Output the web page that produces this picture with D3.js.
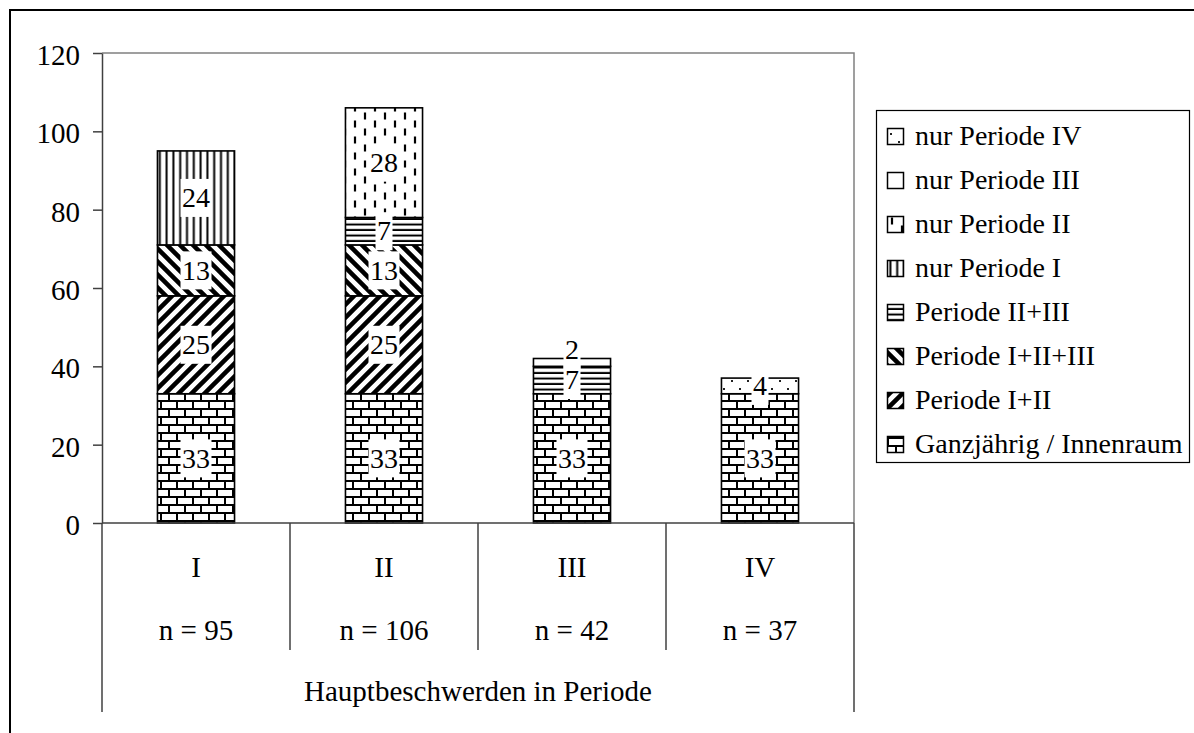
<!DOCTYPE html>
<html>
<head>
<meta charset="utf-8">
<script src="https://cdn.jsdelivr.net/npm/d3@7/dist/d3.min.js"></script>
<style>
	body { margin: 0; background: #ffffff; }
	svg { display: block; font-family: 'Liberation Serif', 'Times New Roman', serif; }
</style>
</head>
<body>
<svg id="chart"></svg>
<script>
// ========== DATA ==========
var periods = ['I', 'II', 'III', 'IV'];
var periodCounts = ['n = 95', 'n = 106', 'n = 42', 'n = 37'];
var groupLabel = 'Hauptbeschwerden in Periode';

// stack order, bottom to top
var seriesNames = ['Ganzjährig / Innenraum', 'Periode I+II', 'Periode I+II+III', 'Periode II+III',
	'nur Periode I', 'nur Periode II', 'nur Periode III', 'nur Periode IV'];
var ganzjaehrig = [33, 33, 33, 33];
var periodeI_II = [25, 25, 0, 0];
var periodeI_II_III = [13, 13, 0, 0];
var periodeII_III = [0, 7, 7, 0];
var nurPeriodeI = [24, 0, 0, 0];
var nurPeriodeII = [0, 28, 0, 0];
var nurPeriodeIII = [0, 0, 2, 0];
var nurPeriodeIV = [0, 0, 0, 4];
var yTicks = [0, 20, 40, 60, 80, 100, 120];

makeChart();

function makeChart() {
	// ========== CONSTANTS ==========
	var width = 1194;
	var height = 733;
	var plotLeft = 102;
	var plotRight = 854;
	var plotTop = 53;
	var plotBottom = 523;
	var fontSize = 29;
	var labelSize = 28;
	var serif = "'Liberation Serif', 'Times New Roman', serif";
	var axisColor = '#404040';
	var frameColor = '#808080';

	var seriesValues = [ganzjaehrig, periodeI_II, periodeI_II_III, periodeII_III,
		nurPeriodeI, nurPeriodeII, nurPeriodeIII, nurPeriodeIV];
	var patternIds = ['brick', 'diagUp', 'diagDown', 'horiz', 'vert', 'dashVert', 'blank', 'dots'];

	// table for d3.stack
	var table = periods.map(function(p, i) {
		var row = { period: p };
		seriesNames.forEach(function(s, j) { row[s] = seriesValues[j][i]; });
		return row;
	});
	var stacked = d3.stack().keys(seriesNames)(table);

	var svg = d3.select('svg#chart')
		.attr('width', width)
		.attr('height', height);

	// outer chart border
	svg.append('rect')
		.attr('x', 10)
		.attr('y', 10)
		.attr('width', width + 20)
		.attr('height', height + 20)
		.attr('fill', 'none')
		.attr('stroke', '#000')
		.attr('stroke-width', 2);

	// ========== PATTERNS ==========
	var defs = svg.append('defs');

	function pattern(id, w, h) {
		var p = defs.append('pattern')
			.attr('id', id)
			.attr('patternUnits', 'userSpaceOnUse')
			.attr('width', w)
			.attr('height', h);
		p.append('rect').attr('width', w).attr('height', h).attr('fill', '#fff');
		return p;
	}

	// bricks
	var brick = pattern('brick', 16, 16);
	brick.append('path')
		.attr('d', 'M0,1H16M0,9H16M1,1V9M9,9V17')
		.attr('stroke', '#000')
		.attr('stroke-width', 2)
		.attr('fill', 'none');

	// wide upward diagonal
	var up = pattern('diagUp', 13, 13);
	up.append('path')
		.attr('d', 'M-3,3L3,-3M0,13L13,0M10,16L16,10')
		.attr('stroke', '#000')
		.attr('stroke-width', 4.5);

	// wide downward diagonal
	var down = pattern('diagDown', 13, 13);
	down.append('path')
		.attr('d', 'M-3,10L3,16M0,0L13,13M10,-3L16,3')
		.attr('stroke', '#000')
		.attr('stroke-width', 4.5);

	// horizontal lines
	var horiz = pattern('horiz', 8, 5.5);
	horiz.append('rect').attr('y', 3.5).attr('width', 8).attr('height', 2).attr('fill', '#000');

	// vertical lines
	var vert = pattern('vert', 6.8, 8);
	vert.append('rect').attr('x', 2.4).attr('width', 2).attr('height', 8).attr('fill', '#000');

	// dashed vertical
	var dash = pattern('dashVert', 20, 16);
	dash.append('path')
		.attr('d', 'M5,0.5V7.5M15,8.5V15.5')
		.attr('stroke', '#000')
		.attr('stroke-width', 2.2);

	pattern('blank', 8, 8);

	// sparse dots
	var dots = pattern('dots', 16, 16);
	dots.append('rect').attr('x', 3).attr('y', 4).attr('width', 2).attr('height', 2).attr('fill', '#222');
	dots.append('rect').attr('x', 11).attr('y', 12).attr('width', 2).attr('height', 2).attr('fill', '#222');

	// ========== SCALES ==========
	var x = d3.scaleBand()
		.domain(periods)
		.range([plotLeft, plotRight])
		.paddingInner(0.59)
		.paddingOuter(0.295);
	var y = d3.scaleLinear()
		.domain([0, 120])
		.range([plotBottom, plotTop]);

	// plot area border (top + right)
	svg.append('path')
		.attr('d', d3.line()([[plotLeft, plotTop], [plotRight, plotTop], [plotRight, plotBottom]]))
		.attr('fill', 'none')
		.attr('stroke', frameColor)
		.attr('stroke-width', 1.5);

	// ========== BARS ==========
	var layers = svg.append('g').selectAll('g')
		.data(stacked)
		.enter().append('g')
		.attr('fill', function(d, i) { return 'url(#' + patternIds[i] + ')'; });

	layers.selectAll('rect')
		.data(function(d) { return d.filter(function(s) { return s[1] > s[0]; }); })
		.enter().append('rect')
		.attr('x', function(d) { return x(d.data.period); })
		.attr('y', function(d) { return y(d[1]); })
		.attr('width', x.bandwidth())
		.attr('height', function(d) { return y(d[0]) - y(d[1]); })
		.attr('stroke', '#000')
		.attr('stroke-width', 1.6);

	// ========== DATA LABELS ==========
	var labels = [];
	periods.forEach(function(p, i) {
		var prev = null;
		stacked.forEach(function(layer) {
			var s = layer[i];
			if (s[1] <= s[0]) return;
			var cy = (y(s[0]) + y(s[1])) / 2;
			// push small segments upward so labels don't sit on top of each other
			if (prev !== null && prev - cy < 30) cy = prev - 30;
			prev = cy;
			labels.push({ period: p, value: s[1] - s[0], cy: cy });
		});
	});

	var lab = svg.append('g').selectAll('g')
		.data(labels)
		.enter().append('g');
	lab.append('rect').attr('fill', '#fff');
	lab.append('text')
		.attr('x', function(d) { return x(d.period) + x.bandwidth() / 2; })
		.attr('y', function(d) { return d.cy; })
		.attr('dy', '0.33em')
		.attr('text-anchor', 'middle')
		.attr('font-family', serif)
		.attr('font-size', labelSize)
		.text(function(d) { return d.value; });
	lab.each(function() {
		var g = d3.select(this);
		var box = g.select('text').node().getBBox();
		var cy = g.datum().cy;
		g.select('rect')
			.attr('x', box.x - 1.5)
			.attr('y', cy - 19)
			.attr('width', box.width + 3)
			.attr('height', 38);
	});

	// ========== AXES ==========
	var yAxis = svg.append('g')
		.attr('transform', 'translate(' + plotLeft + ',0)')
		.call(d3.axisLeft(y).tickValues(yTicks).tickSize(9).tickSizeOuter(0).tickPadding(13));
	yAxis.attr('font-family', serif);
	yAxis.selectAll('path, line').attr('stroke', axisColor).attr('stroke-width', 1.5);
	yAxis.selectAll('text')
		.attr('font-size', fontSize)
		.attr('font-family', serif)
		.attr('fill', '#000')
		.attr('dy', '0.4em');

	// category axis line
	svg.append('line')
		.attr('x1', plotLeft)
		.attr('x2', plotRight)
		.attr('y1', plotBottom)
		.attr('y2', plotBottom)
		.attr('stroke', axisColor)
		.attr('stroke-width', 1.5);

	// category dividers: inner ones short, outer ones reach the group label
	var half = (x.step() - x.bandwidth()) / 2;
	var dividers = periods.map(function(p) { return x(p) - half; });
	dividers.push(x(periods[periods.length - 1]) + x.bandwidth() + half);
	svg.append('g').selectAll('line')
		.data(dividers)
		.enter().append('line')
		.attr('x1', function(d) { return d; })
		.attr('x2', function(d) { return d; })
		.attr('y1', plotBottom)
		.attr('y2', function(d, i) { return (i === 0 || i === dividers.length - 1) ? 712 : 650; })
		.attr('stroke', axisColor)
		.attr('stroke-width', 1.5);

	svg.append('g').selectAll('text')
		.data(periods)
		.enter().append('text')
		.attr('x', function(d) { return x(d) + x.bandwidth() / 2; })
		.attr('y', 577)
		.attr('text-anchor', 'middle')
		.attr('font-family', serif)
		.attr('font-size', fontSize)
		.text(function(d) { return d; });

	svg.append('g').selectAll('text')
		.data(periodCounts)
		.enter().append('text')
		.attr('x', function(d, i) { return x(periods[i]) + x.bandwidth() / 2; })
		.attr('y', 640)
		.attr('text-anchor', 'middle')
		.attr('font-family', serif)
		.attr('font-size', fontSize)
		.text(function(d) { return d; });

	svg.append('text')
		.attr('x', (plotLeft + plotRight) / 2)
		.attr('y', 701)
		.attr('text-anchor', 'middle')
		.attr('font-family', serif)
		.attr('font-size', fontSize)
		.text(groupLabel);

	// ========== LEGEND ==========
	var legend = svg.append('g');
	legend.append('rect')
		.attr('x', 876.5)
		.attr('y', 110.5)
		.attr('width', 313)
		.attr('height', 352)
		.attr('fill', '#fff')
		.attr('stroke', '#000')
		.attr('stroke-width', 1.2);

	var legendItems = seriesNames.map(function(s, i) { return { name: s, pat: patternIds[i] }; }).reverse();
	var items = legend.selectAll('.item')
		.data(legendItems)
		.enter().append('g')
		.attr('class', 'item')
		.attr('transform', function(d, i) { return 'translate(887,' + (145 + i * 44) + ')'; });
	items.append('rect')
		.attr('x', 0.5)
		.attr('y', -16.5)
		.attr('width', 16)
		.attr('height', 16)
		.attr('fill', function(d) { return 'url(#' + d.pat + ')'; })
		.attr('stroke', '#000')
		.attr('stroke-width', 1.5);
	items.append('text')
		.attr('x', 28)
		.attr('y', 0)
		.attr('font-family', serif)
		.attr('font-size', labelSize)
		.text(function(d) { return d.name; });
}
</script>
</body>
</html>
